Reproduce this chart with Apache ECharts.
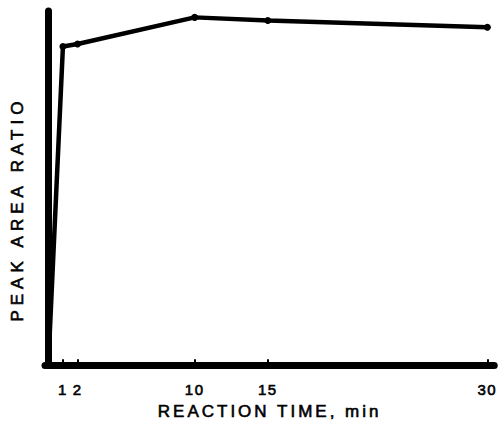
<!DOCTYPE html>
<html>
<head>
<meta charset="utf-8">
<script src="https://cdn.jsdelivr.net/npm/echarts@6/dist/echarts.min.js"></script>
<style>
  html, body { margin: 0; padding: 0; background: #fff; }
  #chart { width: 499px; height: 425px; }
</style>
</head>
<body>
<div id="chart"></div>
<script>
// Reaction time (min) and relative peak area ratio
const reactionTimes = [0, 1, 2, 10, 15, 30];
const peakAreaRatio = [0, 0.900, 0.907, 0.982, 0.973, 0.954];
const tickValues = [1, 2, 10, 15, 30];
const xTitle = 'REACTION TIME, min';
const yTitle = 'PEAK AREA RATIO';

const FONT = '"Liberation Sans", Arial, Helvetica, sans-serif';
const inkText = { color: '#000', fontFamily: FONT, textBorderColor: '#000', textBorderWidth: 0.6 };

const chart = echarts.init(document.getElementById('chart'), null, { renderer: 'svg' });
chart.setOption({
  animation: false,
  backgroundColor: '#fff',
  grid: { left: 45, right: 4, top: 11, bottom: 57, containLabel: false },
  xAxis: {
    type: 'value',
    min: -0.225,
    max: 30.47,
    name: xTitle,
    nameLocation: 'middle',
    nameGap: 34,
    nameTextStyle: Object.assign({ fontSize: 17 }, inkText),
    axisLine: { show: true, onZero: false, lineStyle: { color: '#000', width: 7 } },
    axisTick: { show: true, inside: true, length: 6, customValues: tickValues, lineStyle: { color: '#000', width: 2 } },
    axisLabel: Object.assign({ customValues: tickValues, fontSize: 15, margin: 17 }, inkText),
    splitLine: { show: false }
  },
  yAxis: {
    type: 'value',
    min: 0,
    max: 1,
    name: yTitle,
    nameLocation: 'middle',
    nameRotate: 90,
    nameGap: 19,
    // extra trailing padding nudges the rotated caption towards the lower part of the axis
    nameTextStyle: Object.assign({ fontSize: 17, padding: [0, 42, 0, 0] }, inkText),
    axisLine: { show: true, lineStyle: { color: '#000', width: 7 } },
    axisTick: { show: false },
    axisLabel: { show: false },
    splitLine: { show: false }
  },
  series: [{
    type: 'line',
    data: reactionTimes.map((t, i) => [t, peakAreaRatio[i]]),
    symbol: 'circle',
    symbolSize: 7,
    showSymbol: true,
    lineStyle: { color: '#000', width: 4.5 },
    itemStyle: { color: '#000' },
    clip: false
  }]
});

// Widen the lettering of the captions
function spaceLetters() {
  document.querySelectorAll('#chart svg text').forEach(function (el) {
    const s = el.textContent;
    el.style.letterSpacing = s === yTitle ? '5px' : s === xTitle ? '3px' : '1.5px';
  });
}
chart.on('rendered', spaceLetters);
spaceLetters();
</script>
</body>
</html>
